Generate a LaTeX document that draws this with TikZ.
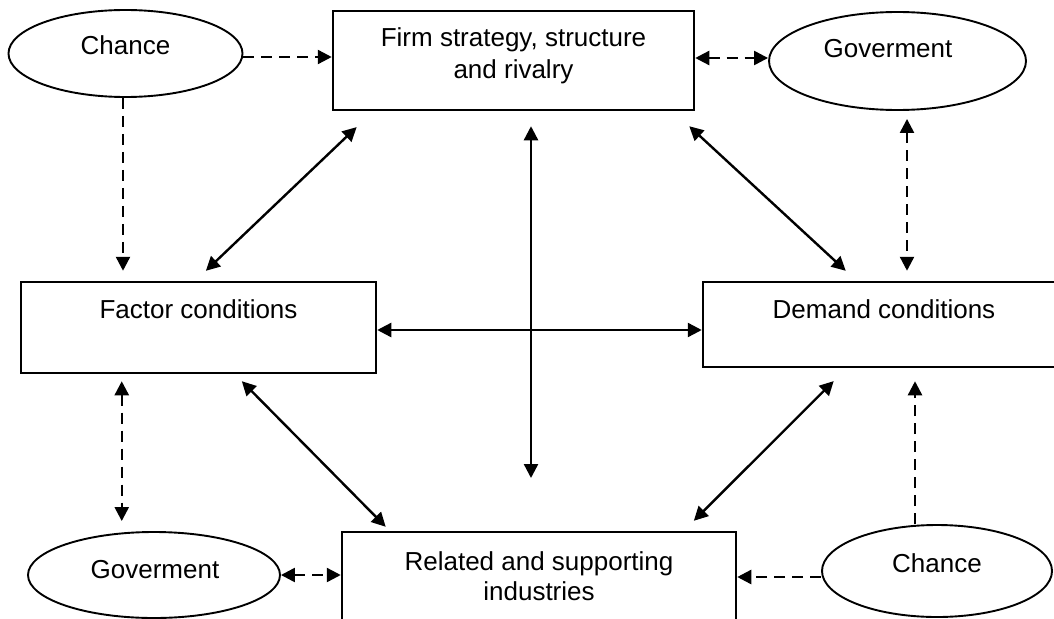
\documentclass[tikz,border=0pt]{standalone}
\usepackage{fontspec}
\setmainfont{Liberation Sans}
\usetikzlibrary{arrows.meta,shapes.geometric}
\begin{document}
\begin{tikzpicture}[x=1pt,y=-1pt,
  box/.style={draw, line width=2.5pt, inner sep=0pt},
  oval/.style={draw, ellipse, line width=1.9pt, inner sep=0pt},
  lbl/.style={font=\fontsize{26}{31}\selectfont, anchor=base, inner sep=0pt},
  tip/.style={-{Triangle[length=14pt,width=14pt]}},
  both/.style={{Triangle[length=14pt,width=14pt]}-{Triangle[length=14pt,width=14pt]}},
  conn/.style={line width=2.4pt},
  dconn/.style={line width=2.4pt, dash pattern=on 11pt off 7pt},
]
\clip (0,0) rectangle (1054,618);
\fill[white] (0,0) rectangle (1054,618);

% boxes
\node[box, minimum width=361pt, minimum height=99pt] (firm) at (513.5,60.5) {};
\node[box, minimum width=355pt, minimum height=91pt] (factor) at (198.5,327.5) {};
\node[box, minimum width=362pt, minimum height=85pt] (demand) at (884,324.5) {};
\node[box, minimum width=394pt, minimum height=118pt] (related) at (539,591) {};

% ellipses
\node[oval, minimum width=234pt, minimum height=87pt] (chance1) at (125.5,53.5) {};
\node[oval, minimum width=257pt, minimum height=98pt] (gov1) at (897.5,61) {};
\node[oval, minimum width=252pt, minimum height=86pt] (gov2) at (154,575) {};
\node[oval, minimum width=230pt, minimum height=92pt] (chance2) at (937,571) {};

% texts
\node[lbl] (chance1t) at (125.5,55) {Chance};
\node[lbl] (firmt1) at (513.5,47) {Firm strategy, structure};
\node[lbl] (firmt2) at (513.5,78) {and rivalry};
\node[lbl] (gov1t) at (888,58) {Goverment};
\node[lbl] (factort) at (198.5,318) {Factor conditions};
\node[lbl] (demandt) at (884,318) {Demand conditions};
\node[lbl] (gov2t) at (155,578) {Goverment};
\node[lbl] (relatedt1) at (539,570) {Related and supporting};
\node[lbl] (relatedt2) at (539,600) {industries};
\node[lbl] (chance2t) at (937,572) {Chance};

% dashed connectors
\draw[dconn, tip] ([yshift=-3.5pt]chance1.east) -- ([yshift=-3.5pt]chance1.east -| firm.west);
\draw[dconn, both] ([yshift=3pt]gov1.west -| firm.east) -- ([yshift=3pt]gov1.west);
\draw[dconn, tip, shorten >=10pt] ([xshift=-2.5pt]chance1.south) -- ([xshift=-2.5pt]chance1.south |- factor.north);
\draw[dconn, both, shorten <=8pt, shorten >=10pt] ([xshift=9.5pt]gov1.south) -- ([xshift=9.5pt]gov1.south |- demand.north);
\draw[dconn, both, shorten <=7pt, shorten >=10pt] ([xshift=102pt]factor.south west) -- ([xshift=102pt]factor.south west |- gov2.north);
\draw[dconn, tip, shorten >=13pt] ([xshift=-22pt]chance2.north) -- ([xshift=-22pt]chance2.north |- demand.south);
\draw[dconn, both] (gov2.east) -- (gov2.east -| related.west);
\draw[dconn, tip] ([yshift=-6pt]chance2.west) -- ([yshift=-6pt]chance2.west -| related.east);

% solid connectors
\draw[conn, both] ([yshift=-2.5pt]factor.east) -- ([yshift=-2.5pt]factor.east -| demand.west);
\coordinate (vend) at (531,478);
\draw[conn, both, shorten <=15pt] ([xshift=17.5pt]firm.south) -- (vend);
\draw[conn, both, shorten <=14.4pt, shorten >=23pt] ([xshift=175.7pt]factor.north west) -- ([xshift=41.5pt]firm.south west);
\draw[conn, both, shorten <=22.1pt, shorten >=14.7pt] ([xshift=-22.2pt]firm.south east) -- ([xshift=154.8pt]demand.north west);
\draw[conn, both, shorten <=9.8pt, shorten >=5.6pt] ([xshift=215.2pt]factor.south west) -- ([xshift=48.9pt]related.north west);
\draw[conn, both, shorten <=18.2pt, shorten >=14.1pt] ([xshift=144.8pt]demand.south west) -- ([xshift=343.1pt]related.north west);
\end{tikzpicture}
\end{document}
